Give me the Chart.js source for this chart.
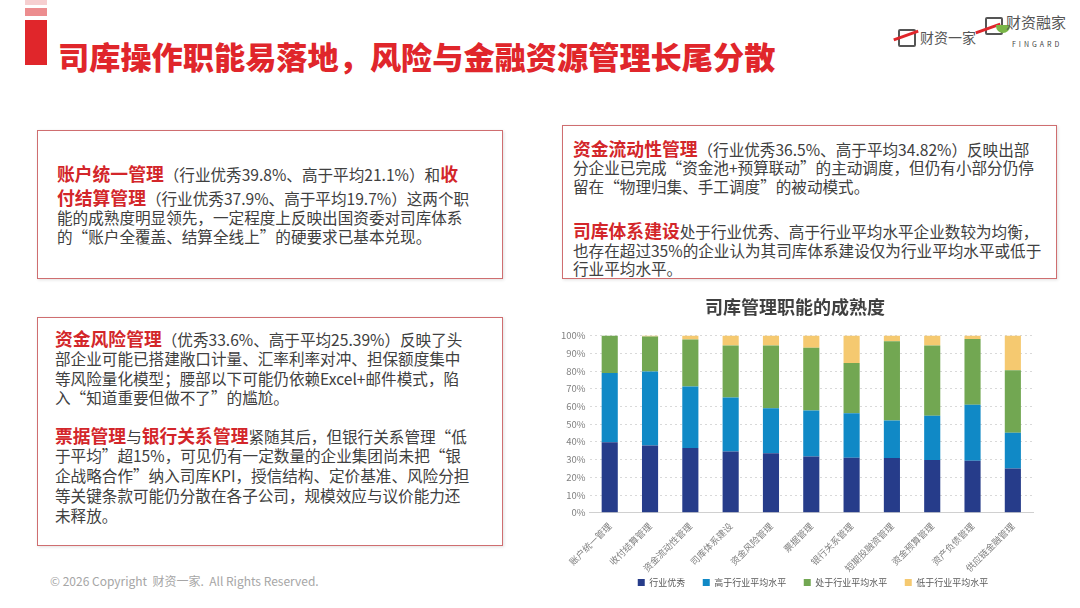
<!DOCTYPE html>
<html><head><meta charset="utf-8">
<script src="https://cdn.jsdelivr.net/npm/chart.js@4/dist/chart.umd.min.js"></script>
<style>
html,body{margin:0;padding:0;background:#fff;}
body{width:1080px;height:608px;position:relative;overflow:hidden;font-family:"Noto Sans CJK SC","Noto Sans",sans-serif;}
.abs{position:absolute;}
.title{left:58px;top:33px;font-size:31.2px;font-weight:900;color:#e0262b;white-space:nowrap;}
.box{position:absolute;border:1.5px solid #cf6e70;box-shadow:1px 1px 3px rgba(0,0,0,0.12);background:#fff;}
.ln{position:absolute;white-space:nowrap;font-size:15.6px;line-height:20px;height:20px;color:#404040;}
.hd{color:#d3262a;font-weight:bold;font-size:17.8px;}
.foot{left:50px;top:572px;font-size:12px;color:#a6a6a6;white-space:nowrap;}
#cw{position:absolute;left:553px;top:288px;width:492px;height:309px;}
</style></head><body>
<!-- left decoration bars -->
<div class="abs" style="left:25px;top:0;width:22px;height:5px;background:#f6cfd0"></div>
<div class="abs" style="left:25px;top:8px;width:22px;height:8px;background:#ec8d8f"></div>
<div class="abs" style="left:25px;top:20px;width:22px;height:45px;background:#e0262b"></div>
<div class="abs title">司库操作职能易落地，风险与金融资源管理长尾分散</div>

<!-- logos -->
<div class="abs" style="left:898px;top:29px;width:14px;height:14px;border:2px solid #555;border-radius:2px;"></div>
<div class="abs" style="left:893px;top:34px;width:26px;height:3px;background:#e0262b;transform:rotate(-20deg);"></div>
<div class="abs" style="left:920px;top:27px;font-size:14px;color:#555;white-space:nowrap;">财资一家</div>
<div class="abs" style="left:985px;top:17px;width:14px;height:14px;border:2px solid #555;border-radius:2px;"></div>
<div class="abs" style="left:975px;top:27px;width:26px;height:3px;background:#e0262b;transform:rotate(-20deg);"></div>
<div class="abs" style="left:996px;top:25px;width:14px;height:8px;border-radius:0 0 8px 8px;background:#7ab648;"></div>
<div class="abs" style="left:1006px;top:11px;font-size:15px;color:#555;white-space:nowrap;">财资融家</div>
<div class="abs" style="left:1012px;top:39px;font-size:7px;color:#444;letter-spacing:3px;white-space:nowrap;">FINGARD</div>

<!-- box 1 -->
<div class="box" style="left:37px;top:130px;width:464px;height:147px;"></div>
<div class="ln" style="left:57px;top:163px;"><span class="hd">账户统一管理</span>（行业优秀39.8%、高于平均21.1%）和<span class="hd">收</span></div>
<div class="ln" style="left:57px;top:187px;"><span class="hd">付结算管理</span>（行业优秀37.9%、高于平均19.7%）这两个职</div>
<div class="ln" style="left:57px;top:207px;">能的成熟度明显领先，一定程度上反映出国资委对司库体系</div>
<div class="ln" style="left:57px;top:226px;">的“账户全覆盖、结算全线上”的硬要求已基本兑现。</div>

<!-- box 2 -->
<div class="box" style="left:562px;top:125px;width:493px;height:152px;"></div>
<div class="ln" style="left:573px;top:138px;"><span class="hd">资金流动性管理</span>（行业优秀36.5%、高于平均34.82%）反映出部</div>
<div class="ln" style="left:573px;top:157px;">分企业已完成“资金池+预算联动”的主动调度，但仍有小部分仍停</div>
<div class="ln" style="left:573px;top:176px;">留在“物理归集、手工调度”的被动模式。</div>
<div class="ln" style="left:573px;top:220px;"><span class="hd">司库体系建设</span>处于行业优秀、高于行业平均水平企业数较为均衡，</div>
<div class="ln" style="left:573px;top:240px;">也存在超过35%的企业认为其司库体系建设仅为行业平均水平或低于</div>
<div class="ln" style="left:573px;top:258px;">行业平均水平。</div>

<!-- box 3 -->
<div class="box" style="left:37px;top:317px;width:464px;height:227px;"></div>
<div class="ln" style="left:55px;top:328px;"><span class="hd">资金风险管理</span>（优秀33.6%、高于平均25.39%）反映了头</div>
<div class="ln" style="left:55px;top:348px;">部企业可能已搭建敞口计量、汇率利率对冲、担保额度集中</div>
<div class="ln" style="left:55px;top:368px;">等风险量化模型；腰部以下可能仍依赖Excel+邮件模式，陷</div>
<div class="ln" style="left:55px;top:387px;">入“知道重要但做不了”的尴尬。</div>
<div class="ln" style="left:55px;top:425px;"><span class="hd">票据管理</span>与<span class="hd">银行关系管理</span>紧随其后，但银行关系管理“低</div>
<div class="ln" style="left:55px;top:445px;">于平均”超15%，可见仍有一定数量的企业集团尚未把“银</div>
<div class="ln" style="left:55px;top:465px;">企战略合作”纳入司库KPI，授信结构、定价基准、风险分担</div>
<div class="ln" style="left:55px;top:485px;">等关键条款可能仍分散在各子公司，规模效应与议价能力还</div>
<div class="ln" style="left:55px;top:505px;">未释放。</div>

<div class="abs foot">© 2026 Copyright&nbsp; 财资一家.&nbsp; All Rights Reserved.</div>

<div id="cw"><canvas id="c"></canvas></div>

<script>
const categories = ["账户统一管理","收付结算管理","资金流动性管理","司库体系建设","资金风险管理","票据管理","银行关系管理","短期投融资管理","资金预算管理","资产负债管理","供应链金融管理"];
const seriesNames = ["行业优秀","高于行业平均水平","处于行业平均水平","低于行业平均水平"];
const excellent   = [39.8, 37.9, 36.5, 34.5, 33.6, 31.7, 31.1, 30.9, 29.8, 29.4, 25.0];
const aboveAvg    = [39.1, 41.9, 34.8, 30.5, 25.4, 26.0, 25.0, 21.1, 24.9, 31.5, 20.1];
const atAvg       = [21.1, 19.7, 26.5, 29.4, 35.4, 35.4, 28.4, 44.8, 39.7, 37.2, 35.3];
const belowAvg    = [0.0, 0.5, 2.2, 5.6, 5.6, 6.9, 15.5, 3.2, 5.6, 1.9, 19.6];
const yTicks = [0,10,20,30,40,50,60,70,80,90,100];
const colors = ["#263c8a","#1089c6","#72a752","#f5c970"];

const FONT = '"Noto Sans CJK SC","Noto Sans",sans-serif';
const series = [excellent, aboveAvg, atAvg, belowAvg];

// shifts the legend block horizontally so it sits under the plot as in the reference
const legendShift = {
  id: 'legendShift',
  afterLayout(chart) {
    const lg = chart.legend;
    if (lg) { lg.left += 18; lg.right += 18; }
  }
};

new Chart(document.getElementById('c'), {
  type: 'bar',
  data: {
    labels: categories,
    datasets: series.map((d,i)=>({label: seriesNames[i], data: d, backgroundColor: colors[i], borderWidth: 0,
      barPercentage: 0.4, categoryPercentage: 1.0}))
  },
  plugins: [legendShift],
  options: {
    responsive: true, maintainAspectRatio: false, animation: false,
    layout: {padding: {left: 4, right: 12, top: 0, bottom: 0}},
    plugins: {
      title: {display: true, text: '司库管理职能的成熟度', color: '#404040',
        font: {family: FONT, size: 18, weight: 'bold'}, padding: {top: 8, bottom: 18}},
      legend: {position: 'bottom', labels: {boxWidth: 7, boxHeight: 7, padding: 4, color: '#595959',
        font: {family: FONT, size: 9},
        generateLabels: (chart) => Chart.defaults.plugins.legend.labels.generateLabels(chart)
          .map((l, i, arr) => { if (i < arr.length - 1) l.text = l.text + '\u3000\u2002'; return l; })}},
      tooltip: {enabled: false}
    },
    scales: {
      x: {stacked: true, grid: {display: false}, border: {color: '#d0d0d0'},
        ticks: {autoSkip: false, minRotation: 45, maxRotation: 45, color: '#808080', padding: 0,
          font: {family: FONT, size: 9.2}}},
      y: {stacked: true, min: 0, max: 100,
        afterBuildTicks: ax => { ax.ticks = yTicks.map(v=>({value: v})); },
        grid: {color: '#d9d9d9', drawTicks: false}, border: {display: false, dash: [2,3]},
        ticks: {padding: 4, color: '#808080', font: {family: FONT, size: 9.5}, callback: v => v + '%'}}
    }
  }
});
</script>
</body></html>
